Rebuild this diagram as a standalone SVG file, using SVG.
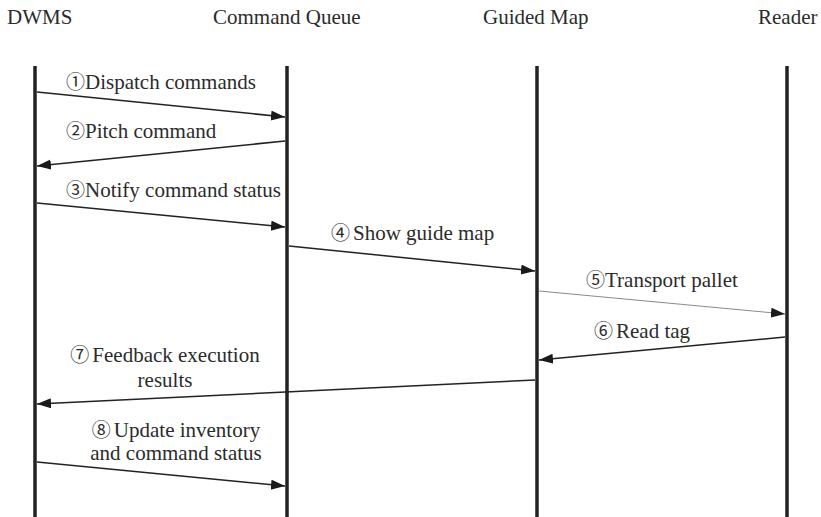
<svg xmlns="http://www.w3.org/2000/svg" width="821" height="517" viewBox="0 0 821 517">
  <style>
    .hdr { font-family: "Liberation Serif", "Times New Roman", serif; font-size: 21px; fill: #2b2b2b; }
    .num { font-family: "Noto Sans CJK SC", "DejaVu Sans", sans-serif; font-size: 19px; }
    .life { stroke: #222; stroke-width: 3.5; fill: none; }
    .msg { stroke: #222; stroke-width: 1.5; fill: none; marker-end: url(#head); }
    .msg.light { stroke: #8a8a8a; stroke-width: 1; }
  </style>
  <defs>
    <marker id="head" markerUnits="userSpaceOnUse" markerWidth="15" markerHeight="11" refX="14" refY="5" orient="auto">
      <path d="M0,0 L14,5 L0,10 Z" fill="#1a1a1a"/>
    </marker>
  </defs>
  <rect width="821" height="517" fill="#ffffff"/>

  <!-- participants with lifelines -->
  <g id="dwms">
    <text class="hdr" x="7" y="24">DWMS</text>
    <line class="life" x1="35" y1="66" x2="35" y2="517"/>
  </g>
  <g id="command-queue">
    <text class="hdr" x="213" y="24">Command Queue</text>
    <line class="life" x1="287" y1="66" x2="287" y2="517"/>
  </g>
  <g id="guided-map">
    <text class="hdr" x="483" y="24">Guided Map</text>
    <line class="life" x1="537" y1="66" x2="537" y2="517"/>
  </g>
  <g id="reader">
    <text class="hdr" x="758" y="24">Reader</text>
    <line class="life" x1="787" y1="66" x2="787" y2="517"/>
  </g>

  <!-- messages -->
  <g id="connectors">
    <line class="msg" x1="37" y1="92" x2="285" y2="117"/>
    <line class="msg" x1="285" y1="141" x2="37" y2="166"/>
    <line class="msg" x1="37" y1="203" x2="285" y2="227"/>
    <line class="msg" x1="289" y1="246" x2="535" y2="271"/>
    <line class="msg light" x1="539" y1="291" x2="785" y2="314"/>
    <line class="msg" x1="785" y1="337" x2="539" y2="360"/>
    <line class="msg" x1="535" y1="380" x2="37" y2="404"/>
    <line class="msg" x1="37" y1="462" x2="285" y2="486"/>
  </g>

  <!-- message labels -->
  <g id="labels" font-family="'Liberation Serif', 'Times New Roman', serif" font-size="21" fill="#2b2b2b">
    <text x="66" y="89"><tspan class="num">①</tspan>Dispatch commands</text>
    <text x="66" y="138"><tspan class="num">②</tspan>Pitch command</text>
    <text x="66" y="197"><tspan class="num">③</tspan>Notify command status</text>
    <text x="331" y="240"><tspan class="num">④</tspan><tspan dx="3">Show guide map</tspan></text>
    <text x="586" y="287"><tspan class="num">⑤</tspan>Transport pallet</text>
    <text x="594" y="338"><tspan class="num">⑥</tspan><tspan dx="3">Read tag</tspan></text>
    <text x="165" y="362" text-anchor="middle"><tspan class="num">⑦</tspan><tspan dx="3">Feedback execution</tspan></text>
    <text x="165" y="387" text-anchor="middle">results</text>
    <text x="176" y="437" text-anchor="middle"><tspan class="num">⑧</tspan><tspan dx="3">Update inventory</tspan></text>
    <text x="176" y="460" text-anchor="middle">and command status</text>
  </g>
</svg>
